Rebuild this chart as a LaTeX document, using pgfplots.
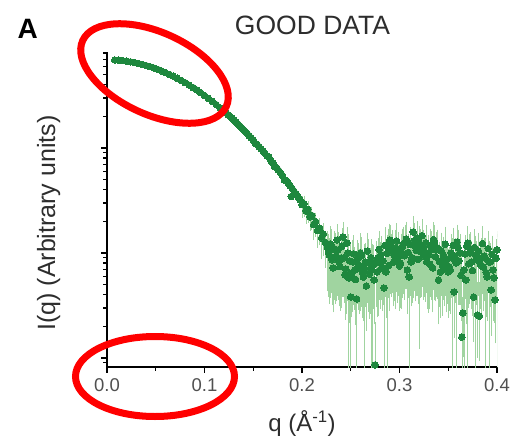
\documentclass[border=0pt]{standalone}
\usepackage{pgfplots}
\usepackage{pgfplotstable}
\pgfplotsset{compat=1.18}
\usepackage{fontspec}
\setmainfont{Liberation Sans}
\definecolor{dotgreen}{RGB}{30,136,62}
\definecolor{errgreen}{RGB}{160,212,160}
\definecolor{txtgray}{RGB}{45,45,45}
\definecolor{tickgray}{RGB}{80,80,80}

\pgfplotstableread{
q I
0.008 688
0.012 684
0.016 678
0.020 670
0.024 661
0.028 651
0.032 639
0.036 625
0.040 610
0.044 595
0.048 578
0.052 560
0.056 541
0.060 522
0.064 502
0.068 482
0.072 461
0.076 440
0.080 419
0.084 398
0.088 377
0.092 357
0.096 336
0.100 316
0.104 297
0.108 278
0.112 259
0.116 241
0.120 224
0.122 216
0.124 208
0.126 200
0.128 192
0.130 184
0.132 177
0.134 170
0.136 163
0.138 156
0.140 149
0.142 143
0.144 136.5
0.146 130.4
0.148 124.5
0.150 118.9
0.152 110.5
0.154 108.1
0.156 102.9
0.158 98.0
0.160 93.2
0.162 88.7
0.164 84.2
0.166 82.0
0.168 75.9
0.170 72.0
0.172 66.5
0.174 64.7
0.176 61.2
0.178 57.9
0.180 54.7
0.182 49.5
0.184 48.9
0.186 46.1
0.188 43.5
0.189 34.5
0.190 41.0
0.192 38.6
0.194 36.4
0.196 34.2
0.198 32.2
}\smoothdata

\pgfplotstableread{
q I ep em
0.200 28.9 3.5 5.8
0.202 29.5 3.5 5.9
0.204 25.1 3.0 5.0
0.206 26.0 3.1 5.2
0.208 22.1 2.9 4.9
0.210 22.8 3.0 5.0
0.212 18.6 2.8 4.5
0.214 19.9 2.8 4.6
0.216 16.4 2.6 4.4
0.218 17.3 2.8 4.7
0.220 13.9 2.6 4.6
0.222 15.1 2.9 5.0
0.224 12.6 2.7 4.9
0.226 11.4 3.6 6.8
0.228 9.57 3.4 6.1
0.230 11.9 4.0 7.5
0.232 7.20 3.5 4.3
0.234 10.7 3.9 7.2
0.236 13.3 4.2 9.1
0.238 8.21 3.6 4.9
0.240 8.96 3.9 5.8
0.242 14.2 4.3 10.1
0.244 6.17 3.4 3.7
0.246 12.45 4.1 8.7
0.248 5.78 3.2 3.5
0.250 3.81 2.9 3.6
0.252 8.21 4.3 5.3
0.254 6.89 3.7 3.8
0.256 3.65 3.0 3.2
0.258 7.69 4.0 4.6
0.260 10.0 4.5 7.0
0.262 6.59 3.6 4.0
0.264 7.20 4.1 6.5
0.266 4.85 3.3 2.9
0.268 8.21 4.4 5.3
0.270 6.89 3.5 4.1
0.272 7.52 3.9 6.9
0.274 5.53 3.1 3.3
0.275 0.86 1.2 0.7
0.276 8.03 4.2 4.8
0.278 8.96 4.0 6.3
0.280 8.21 3.8 5.1
0.282 7.20 3.6 4.2
0.284 4.64 3.0 3.9
0.286 6.59 3.8 4.0
0.288 11.4 4.6 7.4
0.290 13.3 4.5 9.3
0.292 10.2 4.0 6.1
0.294 8.21 3.9 4.9
0.296 11.2 4.3 8.1
0.298 8.96 3.7 5.4
0.300 7.52 3.9 4.5
0.302 10.2 4.1 7.1
0.304 12.2 4.5 7.9
0.306 12.7 4.6 7.9
0.308 6.89 3.6 4.1
0.310 5.91 3.3 5.3
0.312 8.21 3.8 4.9
0.314 15.85 5.0 11.9
0.316 11.7 4.2 8.0
0.318 13.9 4.8 9.7
0.320 12.7 4.3 11.4
0.322 10.2 4.2 6.1
0.324 11.2 4.4 7.4
0.326 9.16 4.0 5.5
0.328 8.21 3.9 5.1
0.330 9.57 4.1 6.7
0.332 11.7 4.3 7.6
0.334 7.20 3.7 4.3
0.336 12.7 4.6 8.9
0.338 10.7 4.2 6.6
0.340 5.53 3.3 3.3
0.342 6.59 3.6 4.0
0.344 7.69 3.9 5.0
0.346 8.21 4.0 4.9
0.348 7.20 3.7 4.3
0.350 6.59 3.7 4.0
0.352 6.89 3.6 4.1
0.354 8.96 4.0 8.1
0.356 4.25 3.0 2.6
0.358 8.03 3.9 7.5
0.360 11.2 4.4 7.8
0.362 10.0 4.2 6.6
0.364 1.58 2.0 1.3
0.365 2.68 2.6 1.6
0.366 6.89 3.6 6.4
0.368 5.53 3.4 3.3
0.370 12.45 4.5 11.6
0.372 10.0 4.3 6.5
0.374 8.21 3.9 5.1
0.376 3.81 3.0 2.3
0.378 9.57 4.1 8.9
0.380 2.57 2.4 1.5
0.382 2.51 2.4 1.5
0.384 8.96 4.0 6.3
0.386 7.36 3.8 4.4
0.388 8.96 4.1 8.2
0.390 5.91 3.4 3.5
0.392 8.21 3.9 7.6
0.394 4.44 3.1 2.7
0.396 6.89 3.6 4.5
0.398 3.57 3.0 2.1
0.400 10.7 4.3 9.9
}\errdata

\pgfplotstableread{
q I ep em
0.227 10.2 4.1 6.1
0.229 12.2 4.6 8.2
0.231 8.6 3.6 5.2
0.233 11.0 4.3 7.2
0.235 9.2 3.8 5.5
0.237 10.7 4.0 6.9
0.239 7.4 3.3 4.4
0.241 11.6 4.5 7.5
0.243 9.0 3.7 5.4
0.245 7.0 3.1 4.2
0.247 10.0 4.1 9.2
0.249 8.4 3.4 5.0
0.251 6.4 3.0 3.8
0.253 9.8 4.0 6.4
0.255 5.6 2.8 3.4
0.257 8.8 3.6 5.3
0.259 7.1 3.2 4.3
0.261 9.4 3.9 6.1
0.263 5.9 2.9 3.5
0.265 8.2 3.5 4.9
0.267 10.4 4.2 6.8
0.269 6.3 3.0 3.8
0.271 9.0 3.7 8.3
0.273 7.8 3.4 4.7
0.277 6.6 3.1 4.0
0.279 10.8 4.3 7.0
0.281 9.6 3.9 5.8
0.283 8.4 3.5 5.0
0.285 11.8 4.6 7.7
0.287 9.9 4.0 9.1
0.289 7.6 3.3 4.6
0.291 12.4 4.7 8.1
0.293 11.1 4.3 6.7
0.295 9.3 3.8 5.6
0.297 13.0 4.9 8.5
0.299 10.6 4.2 6.4
0.301 8.0 3.4 4.8
0.303 11.5 4.5 7.5
0.305 9.4 3.9 5.6
0.307 13.6 5.0 8.8
0.309 10.1 4.1 6.1
0.311 12.0 4.6 7.8
0.313 9.0 3.7 5.4
0.315 13.1 4.8 8.5
0.317 10.6 4.2 6.4
0.319 8.7 3.6 5.2
0.321 11.4 4.4 7.4
0.323 14.6 5.2 9.5
0.325 10.3 4.1 6.2
0.327 12.5 4.7 8.1
0.329 9.9 4.0 5.9
0.331 7.8 3.4 4.7
0.333 10.8 4.3 7.0
0.335 13.4 4.9 8.7
0.337 9.2 3.8 5.5
0.339 11.2 4.4 7.3
0.341 8.3 3.5 5.0
0.343 10.4 4.2 6.2
0.345 9.5 3.9 5.7
0.347 12.1 4.6 7.9
0.349 8.7 3.6 5.2
0.351 7.4 3.3 4.4
0.353 10.0 4.1 6.0
0.355 11.8 4.5 7.7
0.357 9.1 3.8 5.5
0.359 12.7 4.7 8.3
0.361 8.4 3.5 5.0
0.363 6.1 3.0 3.7
0.367 9.8 4.0 5.9
0.369 11.6 4.5 7.5
0.371 7.9 3.4 4.7
0.373 10.5 4.2 6.3
0.375 6.8 3.1 4.1
0.377 11.3 4.4 7.3
0.379 8.6 3.6 5.2
0.381 10.4 4.2 6.2
0.383 7.7 3.4 4.6
0.385 12.3 4.7 8.0
0.387 9.3 3.8 5.6
0.389 6.5 3.1 3.9
0.391 11.0 4.3 6.6
0.393 8.2 3.5 4.9
0.395 9.7 4.0 5.8
0.397 5.8 2.9 3.5
0.399 8.9 3.7 5.3
}\errdatab

\begin{document}
\begin{tikzpicture}
\path[use as bounding box] (0,0) rectangle (513bp,-442bp);
\begin{axis}[
  at={(107bp,-367bp)}, anchor=south west,
  scale only axis, width=390bp, height=315bp,
  xmin=0, xmax=0.4,
  ymode=log, ymin=0.82, ymax=820,
  axis x line=bottom, axis y line=left,
  axis line style={-, line width=1.8bp, black},
  tick align=outside,
  tick style={black, line width=1.4bp},
  major tick length=6bp, minor tick length=4bp,
  xtick={0,0.1,0.2,0.3,0.4},
  xticklabels={0.0,0.1,0.2,0.3,0.4},
  minor xtick={0.05,0.15,0.25,0.35},
  yticklabels={},
  xticklabel style={font=\fontsize{18.5bp}{22bp}\selectfont, text=tickgray, yshift=-2bp},
  xlabel={q (Å\textsuperscript{-1})},
  xlabel style={at={(axis description cs:0.5,-0.206)}, anchor=base, font=\fontsize{24bp}{28bp}\selectfont, text=txtgray},
  ylabel={I(q) (Arbitrary units)},
  ylabel style={at={(axis description cs:-0.133,0.457)}, anchor=base, font=\fontsize{25bp}{29bp}\selectfont, text=txtgray},
  clip=true,
]
\addplot[errgreen, only marks, mark=none, forget plot,
  error bars/.cd, y dir=both, y explicit,
  error bar style={errgreen, line width=0.55bp},
  error mark options={errgreen, line width=0.55bp, mark size=3bp}]
  table[x=q, y=I, y error plus=ep, y error minus=em] {\errdata};
\addplot[errgreen, only marks, mark=none, forget plot,
  error bars/.cd, y dir=both, y explicit,
  error bar style={errgreen, line width=0.55bp},
  error mark options={errgreen, line width=0.55bp, mark size=3bp}]
  table[x=q, y=I, y error plus=ep, y error minus=em] {\errdatab};
\addplot[only marks, mark=*, mark size=3.3bp, mark options={fill=dotgreen, draw=dotgreen, line width=0pt}]
  table[x=q, y=I] {\smoothdata};
\addplot[only marks, mark=*, mark size=3.3bp, mark options={fill=dotgreen, draw=dotgreen, line width=0pt}]
  table[x=q, y=I] {\errdata};
\addplot[only marks, mark=*, mark size=3.3bp, mark options={fill=dotgreen, draw=dotgreen, line width=0pt}]
  table[x=q, y=I] {\errdatab};
\end{axis}
\node[anchor=base west, font=\fontsize{28bp}{32bp}\selectfont\bfseries] at (14bp,-38bp) {A};
\node[anchor=base, font=\fontsize{26.5bp}{30bp}\selectfont, text=txtgray] at (312.5bp,-34bp) {GOOD DATA};
\draw[red, line width=7bp, rotate around={-24.7:(154.5bp,-73.5bp)}] (154.5bp,-73.5bp) ellipse (79bp and 41bp);
\draw[red, line width=7bp] (155bp,-376.5bp) ellipse (79.5bp and 40bp);
\end{tikzpicture}
\end{document}
